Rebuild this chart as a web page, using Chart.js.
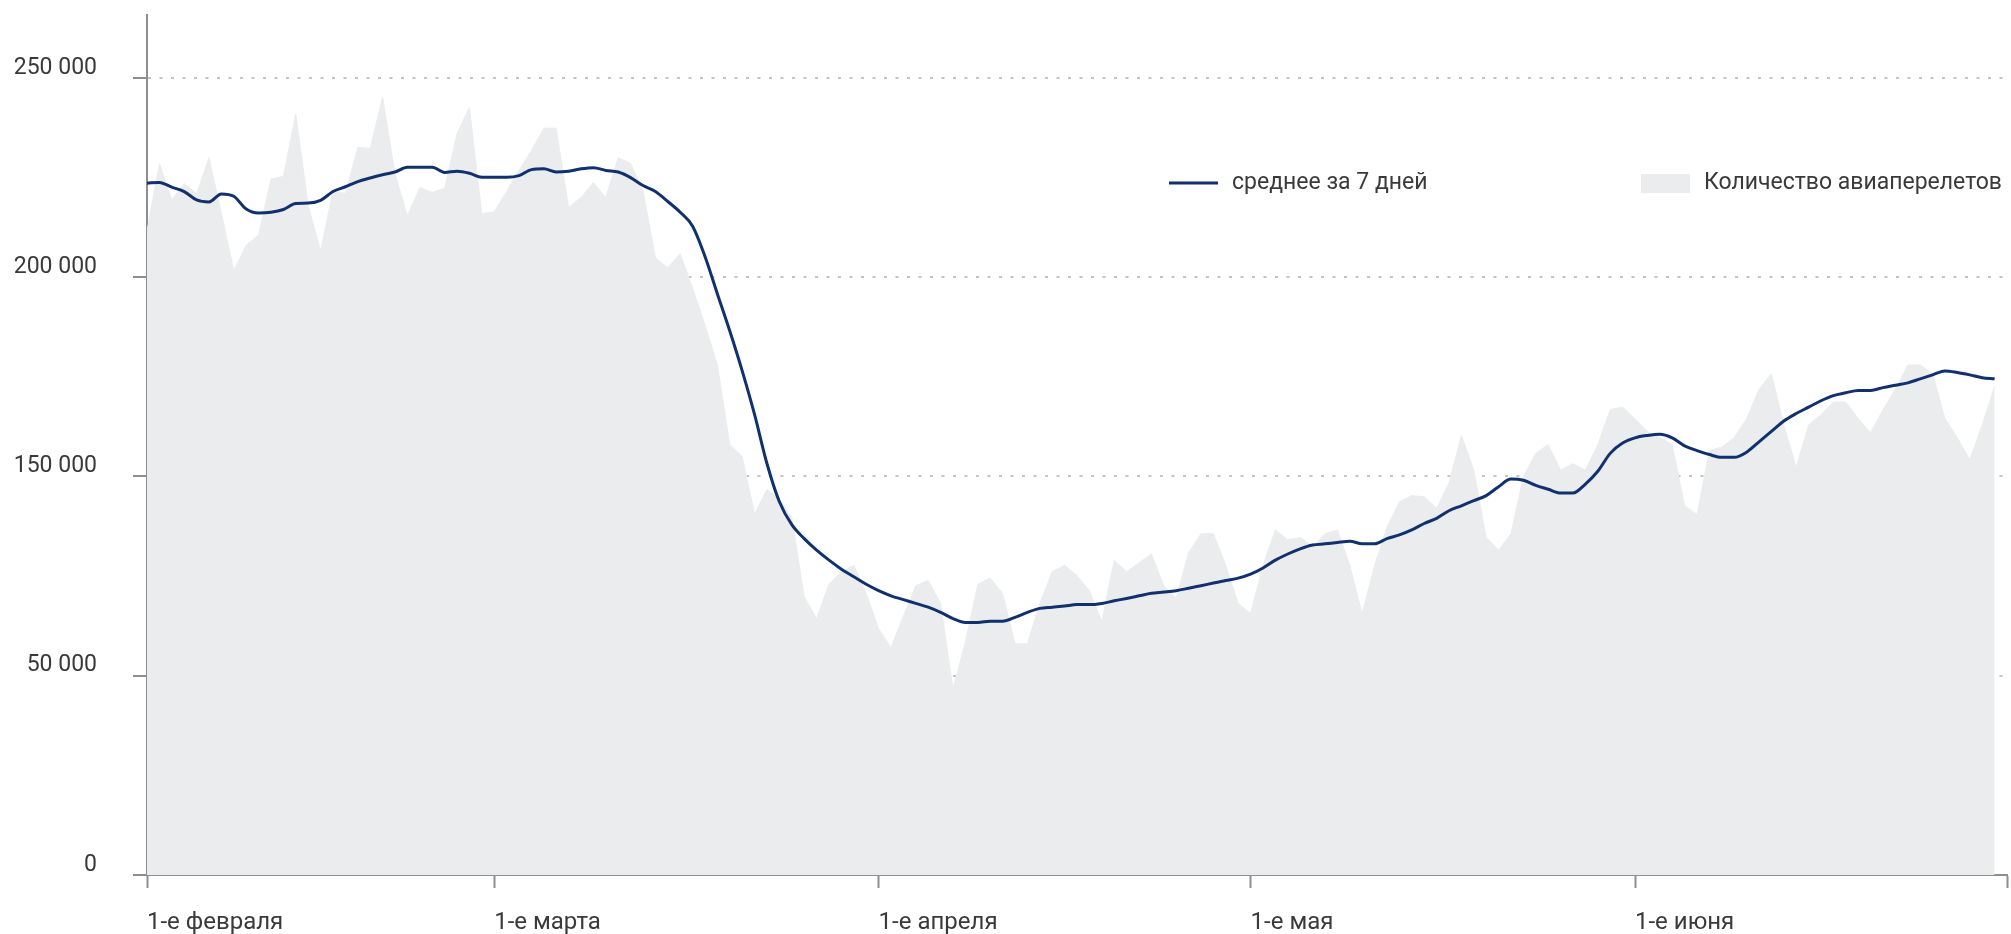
<!DOCTYPE html>
<html lang="ru">
<head>
<meta charset="utf-8">
<title>Количество авиаперелетов</title>
<script src="https://cdn.jsdelivr.net/npm/chart.js@4.4.1/dist/chart.umd.min.js"></script>
<style>
  html, body { margin: 0; padding: 0; background: #fff; }
  canvas { display: block; }
</style>
</head>
<body>
<canvas id="chart" width="2011" height="934"></canvas>
<script>
// daily flights, starting 2 Feb
const flights = [
  211600, 228500, 219400, 223500, 221000, 230000, 216000, 201700, 208000, 210600,
  224700, 225300, 241000, 218000, 206600, 221700, 221000, 232600, 232300, 245200,
  226000, 215400, 222500, 221300, 222300, 236000, 242600, 216000, 216400, 221500,
  226800, 231800, 237400, 237400, 217500, 220000, 223800, 220000, 230000, 228600,
  221700, 204900, 202400, 205900, 197300, 188000, 178000, 158000, 155000, 131000,
  143600, 138500, 129600, 89500, 78700, 95900, 102200, 105400, 91400, 73600,
  64000, 80000, 95200, 97800, 86300, 46800, 67000, 95900, 99000, 91400,
  66000, 66000, 86300, 102200, 105400, 100300, 92700, 77400, 108000, 102200,
  106700, 111100, 95200, 88800, 111800, 121300, 121300, 105400, 86300, 81200,
  105400, 123200, 118200, 119400, 115000, 121300, 123200, 105400, 81200, 105400,
  124500, 137300, 140400, 139800, 134000, 146800, 160300, 151600, 119400, 113000,
  121300, 150000, 155800, 158000, 151600, 153200, 151600, 158000, 166800, 167400,
  164500, 161300, 159700, 158000, 135300, 130900, 156500, 157400, 159700, 164500,
  171900, 175800, 162900, 152300, 162900, 165500, 168700, 168700, 164500, 161000,
  166800, 171900, 178000, 178000, 175800, 164500, 159700, 154200, 162900, 172600
]

// 7-day average
const avg7 = [
  223600, 223800, 222600, 221500, 219400, 218900, 220900, 220300, 217100, 216100,
  216300, 217000, 218500, 218600, 219300, 221500, 222700, 224000, 224900, 225700,
  226400, 227600, 227600, 227600, 226300, 226600, 226100, 225100, 225100, 225100,
  225500, 227000, 227200, 226400, 226600, 227200, 227500, 226800, 226400, 225000,
  223000, 221500, 219000, 216300, 212800, 205200, 195800, 186500, 176500, 165500,
  153200, 137300, 125800, 118800, 113000, 108000, 103500, 99700, 95900, 92700,
  90100, 88200, 86300, 84400, 81800, 78700, 76700, 76700, 77400, 77400,
  79300, 81800, 83800, 84400, 85000, 85700, 85700, 86300, 87600, 88800,
  90100, 91400, 92000, 92700, 93900, 95200, 96500, 97800, 99000, 101000,
  104100, 108000, 111100, 113700, 115600, 116200, 116900, 117500, 116200, 116200,
  118800, 120700, 123200, 126400, 129000, 132800, 135300, 137900, 140400, 144900,
  148700, 148100, 145500, 143600, 141700, 141700, 146200, 151300, 155800, 158400,
  159700, 160300, 160600, 159700, 157700, 156500, 155500, 154800, 154800, 156100,
  158700, 161300, 163900, 165800, 167400, 169000, 170300, 171000, 171600, 171600,
  172300, 172900, 173500, 174500, 175500, 176500, 176100, 175500, 174800, 174500
]

const seriesLabels = ['среднее за 7 дней', 'Количество авиаперелетов']
const yTicks = [0, 50000, 150000, 200000, 250000]
const xTickDays = [0, 28, 59, 89, 120, 150]
const xTickLabels = ['1-е февраля', '1-е марта', '1-е апреля', '1-е мая', '1-е июня', '']

const navy = '#10306e'
const fillGrey = '#ebecee'
const axisGrey = '#8e8e8e'
const dotGrey = '#c4c4c4'
const textColor = '#3a3a3a'

const days = flights.map((_, i) => i)

function fmt(v) {
  return String(v).replace(/\B(?=(\d{3})+(?!\d))/g, ' ')
}

// the original axis skips 100 000 but keeps the labels evenly spaced,
// so every gap between two ticks gets the same height
class StepLinearScale extends Chart.LinearScale {
  buildTicks() {
    return yTicks.map((v) => ({ value: v }))
  }
  toUnits(v) {
    let i = 0
    while (i < yTicks.length - 2 && v > yTicks[i + 1]) i++
    return i + (v - yTicks[i]) / (yTicks[i + 1] - yTicks[i])
  }
  getPixelForValue(v) {
    return this.getPixelForDecimal(this.toUnits(v) / this.toUnits(this.max))
  }
  getValueForPixel(p) {
    const u = this.getDecimalForPixel(p) * this.toUnits(this.max)
    const i = Math.min(Math.max(Math.floor(u), 0), yTicks.length - 2)
    return yTicks[i] + (u - i) * (yTicks[i + 1] - yTicks[i])
  }
}
StepLinearScale.id = 'stepLinear'
StepLinearScale.defaults = Chart.LinearScale.defaults
Chart.register(StepLinearScale)

// legend sits inside the plot, two items far apart
const cornerLegend = {
  id: 'cornerLegend',
  afterDraw(chart, args, opts) {
    const { ctx } = chart
    const ds = chart.data.datasets
    ctx.save()
    ctx.font = opts.font
    ctx.textBaseline = 'middle'
    ctx.textAlign = 'left'

    ctx.strokeStyle = ds[0].borderColor
    ctx.lineWidth = 3
    ctx.beginPath()
    ctx.moveTo(opts.x[0], opts.y)
    ctx.lineTo(opts.x[0] + opts.box, opts.y)
    ctx.stroke()
    ctx.fillStyle = textColor
    ctx.fillText(ds[0].label, opts.x[0] + opts.box + opts.gap, opts.y)

    ctx.fillStyle = ds[1].backgroundColor
    ctx.fillRect(opts.x[1], opts.y - 9, opts.box, 19)
    ctx.fillStyle = textColor
    ctx.fillText(ds[1].label, opts.x[1] + opts.box + opts.gap, opts.y)
    ctx.restore()
  }
}

const ctx = document.getElementById('chart')
const chart = new Chart(ctx, {
  type: 'line',
  data: {
    labels: days,
    datasets: [
      {
        label: seriesLabels[0],
        data: avg7,
        borderColor: navy,
        borderWidth: 3,
        pointRadius: 0,
        fill: false,
        cubicInterpolationMode: 'monotone'
      },
      {
        label: seriesLabels[1],
        data: flights,
        borderColor: fillGrey,
        backgroundColor: fillGrey,
        borderWidth: 1,
        pointRadius: 0,
        tension: 0,
        fill: 'origin'
      }
    ]
  },
  options: {
    responsive: false,
    animation: false,
    layout: { padding: { top: 15, right: 4, left: 0, bottom: 0 } },
    plugins: {
      legend: { display: false },
      tooltip: { enabled: false },
      cornerLegend: { x: [1169, 1641], y: 183, box: 49, gap: 14, font: '23px Roboto' }
    },
    scales: {
      x: {
        type: 'linear',
        min: 0,
        max: 150,
        afterBuildTicks: (s) => { s.ticks = xTickDays.map((v) => ({ value: v })) },
        afterFit: (s) => {
          s.height = 59
          s.paddingLeft = 0
          s.paddingRight = 0
        },
        grid: { drawOnChartArea: false, drawTicks: true, tickLength: 13, tickColor: axisGrey, tickWidth: 2 },
        border: { display: true, color: axisGrey, width: 2 },
        ticks: {
          autoSkip: false,
          maxRotation: 0,
          align: 'start',
          padding: 21,
          color: textColor,
          font: { family: 'Roboto', size: 24 },
          callback: (v) => xTickLabels[xTickDays.indexOf(v)]
        }
      },
      y: {
        type: 'stepLinear',
        min: 0,
        max: 265800,
        afterFit: (s) => {
          s.width = 147
          s.paddingTop = 0
          s.paddingBottom = 0
        },
        grid: {
          color: (c) => (c.tick && c.tick.value === 0 ? 'rgba(0,0,0,0)' : dotGrey),
          lineWidth: 2,
          tickLength: 14,
          tickColor: axisGrey,
          tickWidth: 2
        },
        border: { display: true, color: axisGrey, width: 2, dash: [3, 8.5] },
        ticks: {
          padding: 36,
          labelOffset: -10,
          color: textColor,
          font: { family: 'Roboto', size: 23 },
          callback: (v) => fmt(v)
        }
      }
    }
  },
  plugins: [cornerLegend]
})
</script>
</body>
</html>
